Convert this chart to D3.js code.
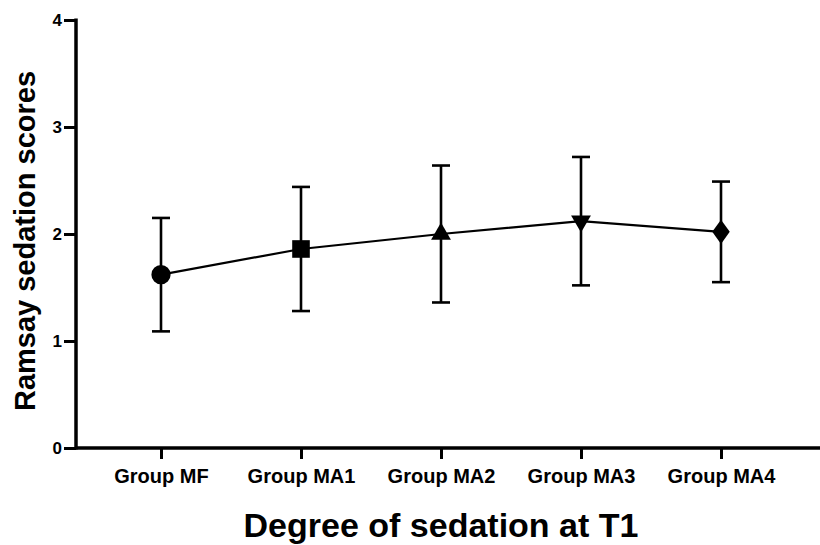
<!DOCTYPE html>
<html>
<head>
<meta charset="utf-8">
<script src="https://cdn.jsdelivr.net/npm/d3@7"></script>
<style>
  body { margin: 0; background: #fff; }
  text { font-family: "Liberation Sans", Arial, sans-serif; font-weight: bold; fill: #000; }
</style>
</head>
<body>
<svg id="chart" width="820" height="545"></svg>
<script>
// group names along the x axis
let groups = ["Group MF", "Group MA1", "Group MA2", "Group MA3", "Group MA4"];
// mean Ramsay score and its SD for each group
let means = [1.62, 1.86, 2.00, 2.12, 2.02];
let sds = [0.53, 0.58, 0.64, 0.60, 0.47];
let symbols = [d3.symbolCircle, d3.symbolSquare, d3.symbolTriangle, d3.symbolTriangle, d3.symbolDiamond];
let yTicks = [0, 1, 2, 3, 4];

let svg = d3.select("#chart");

let x = d3.scalePoint()
    .domain(groups)
    .range([161, 721]);

let y = d3.scaleLinear()
    .domain([0, 4])
    .range([448, 20]);

let data = groups.map((g, i) => ({ group: g, mean: means[i], sd: sds[i], symbol: symbols[i], idx: i }));

// y axis
let yAxis = svg.append("g")
    .attr("transform", "translate(76,0)")
    .call(d3.axisLeft(y).tickValues(yTicks).tickFormat(d3.format("d")).tickSize(12).tickPadding(2));
yAxis.select(".domain").remove();
yAxis.selectAll(".tick line").attr("stroke", "#000").attr("stroke-width", 3);
yAxis.selectAll(".tick text").style("font-size", "17px");
svg.append("line")
    .attr("x1", 76).attr("x2", 76)
    .attr("y1", y(4) - 1.5).attr("y2", y(0) + 1.5)
    .attr("stroke", "#000").attr("stroke-width", 3.5);

// x axis
let xAxis = svg.append("g")
    .attr("transform", `translate(0,${y(0)})`)
    .call(d3.axisBottom(x).tickSize(11).tickPadding(7));
xAxis.select(".domain").remove();
xAxis.selectAll(".tick line").attr("stroke", "#000").attr("stroke-width", 3);
xAxis.selectAll(".tick text").style("font-size", "20px").attr("dy", "0.85em");
svg.append("line")
    .attr("x1", 76).attr("x2", 820)
    .attr("y1", y(0)).attr("y2", y(0))
    .attr("stroke", "#000").attr("stroke-width", 3.5);

// error bars
let bars = svg.append("g").selectAll("g").data(data).join("g");
bars.append("line")
    .attr("x1", d => x(d.group)).attr("x2", d => x(d.group))
    .attr("y1", d => y(d.mean + d.sd)).attr("y2", d => y(d.mean - d.sd))
    .attr("stroke", "#000").attr("stroke-width", 2.6);
bars.append("line")
    .attr("x1", d => x(d.group) - 9).attr("x2", d => x(d.group) + 9)
    .attr("y1", d => y(d.mean + d.sd)).attr("y2", d => y(d.mean + d.sd))
    .attr("stroke", "#000").attr("stroke-width", 2.6);
bars.append("line")
    .attr("x1", d => x(d.group) - 9).attr("x2", d => x(d.group) + 9)
    .attr("y1", d => y(d.mean - d.sd)).attr("y2", d => y(d.mean - d.sd))
    .attr("stroke", "#000").attr("stroke-width", 2.6);

// mean line
svg.append("path")
    .datum(data)
    .attr("fill", "none")
    .attr("stroke", "#000")
    .attr("stroke-width", 2.2)
    .attr("d", d3.line().x(d => x(d.group)).y(d => y(d.mean)));

// markers
svg.append("g").selectAll("path").data(data).join("path")
    .attr("transform", d => {
        let t = `translate(${x(d.group)},${y(d.mean)})`;
        if (d.idx == 3) t += " rotate(180)";
        if (d.idx == 4) t += " scale(1.25,1)";
        return t;
    })
    .attr("d", d => {
        let size = d.idx == 0 ? 290 : d.idx == 1 ? 310 : 170;
        return d3.symbol().type(d.symbol).size(size)();
    })
    .attr("fill", "#000");

// axis titles
svg.append("text")
    .attr("x", 441).attr("y", 537)
    .attr("text-anchor", "middle")
    .style("font-size", "34px")
    .text("Degree of sedation at T1");

svg.append("text")
    .attr("transform", "translate(35,241) rotate(-90)")
    .attr("text-anchor", "middle")
    .style("font-size", "29px")
    .text("Ramsay sedation scores");
</script>
</body>
</html>
